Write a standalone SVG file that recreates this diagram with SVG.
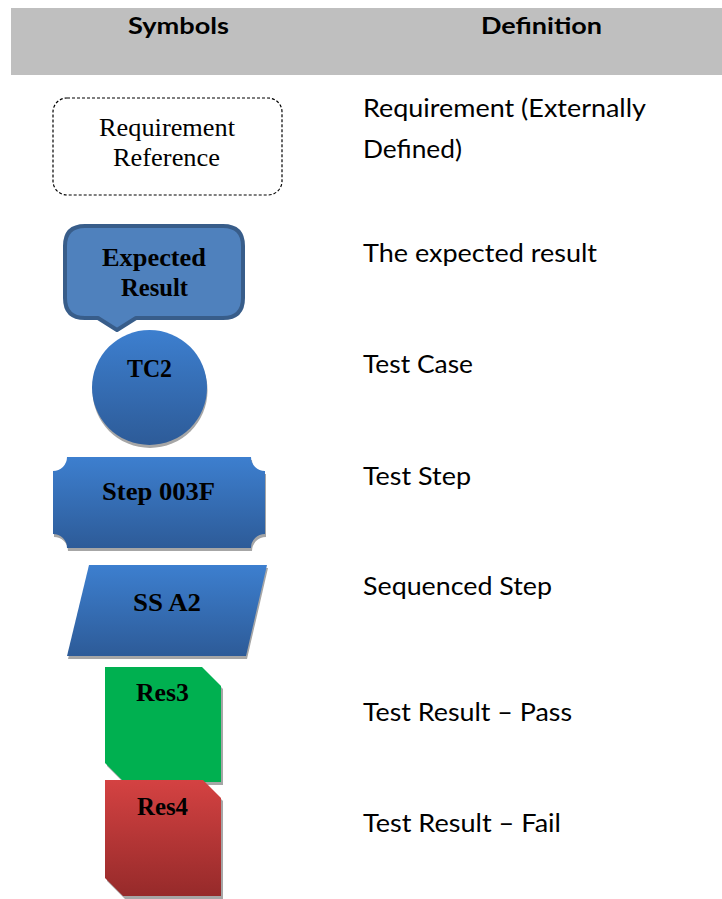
<svg xmlns="http://www.w3.org/2000/svg" width="722" height="899" viewBox="0 0 722 899">
<defs>
<linearGradient id="blue" x1="0" y1="0" x2="0" y2="1">
<stop offset="0" stop-color="#3d7fcf"/>
<stop offset="1" stop-color="#2d5b98"/>
</linearGradient>
<linearGradient id="red" x1="0" y1="0" x2="0" y2="1">
<stop offset="0" stop-color="#d44242"/>
<stop offset="1" stop-color="#962a2a"/>
</linearGradient>
</defs>
<style>
.hdr{font-family:Lato,"Open Sans",sans-serif;font-weight:bold;font-size:23px;fill:#000;text-anchor:middle}
.def{font-family:Lato,"Open Sans",sans-serif;font-size:25px;fill:#000}
.req{font-family:"Liberation Serif",serif;font-size:24.5px;fill:#000;text-anchor:middle}
.lbl{font-family:"Liberation Serif",serif;font-weight:bold;font-size:26px;fill:#000;text-anchor:middle}
.shadow{fill:#a6a6a6}
</style>
<rect width="722" height="899" fill="#fff"/>
<g id="header">
<rect x="11" y="8" width="711" height="67" fill="#bfbfbf"/>
<text class="hdr" x="178.5" y="34" textLength="101" lengthAdjust="spacingAndGlyphs">Symbols</text>
<text class="hdr" x="541.5" y="34" textLength="121" lengthAdjust="spacingAndGlyphs">Definition</text>
</g>
<g id="requirement">
<rect x="53" y="98" width="229" height="97" rx="14" ry="14" fill="#fff" stroke="#000" stroke-width="1.2" stroke-dasharray="3,2"/>
<text class="req" x="167" y="136" textLength="136" lengthAdjust="spacingAndGlyphs">Requirement</text>
<text class="req" x="166.5" y="166" textLength="107" lengthAdjust="spacingAndGlyphs">Reference</text>
</g>
<g id="expected-result">
<path d="M85,226 H223 Q243,226 243,246 V298 Q243,318 223,318 H136 L117,330 L98,318 H85 Q65,318 65,298 V246 Q65,226 85,226 Z" fill="#4f81bd" stroke="#385d8a" stroke-width="4" stroke-linejoin="round"/>
<text class="lbl" x="154" y="266" textLength="104" lengthAdjust="spacingAndGlyphs">Expected</text>
<text class="lbl" x="154.5" y="296" textLength="67" lengthAdjust="spacingAndGlyphs">Result</text>
</g>
<g id="test-case">
<circle class="shadow" cx="150" cy="390.5" r="57.5"/>
<circle cx="149.5" cy="387.5" r="57.5" fill="url(#blue)"/>
<text class="lbl" x="149.5" y="377" textLength="45" lengthAdjust="spacingAndGlyphs">TC2</text>
</g>
<g id="test-step">
<path class="shadow" transform="translate(1,3)" d="M67,457 H251 A14,14 0 0 0 265,471 V534 A14,14 0 0 0 251,548 H67 A14,14 0 0 0 53,534 V471 A14,14 0 0 0 67,457 Z"/>
<path fill="url(#blue)" d="M67,457 H251 A14,14 0 0 0 265,471 V534 A14,14 0 0 0 251,548 H67 A14,14 0 0 0 53,534 V471 A14,14 0 0 0 67,457 Z"/>
<text class="lbl" x="158.5" y="500" textLength="113" lengthAdjust="spacingAndGlyphs">Step 003F</text>
</g>
<g id="sequenced-step">
<polygon class="shadow" transform="translate(1,3)" points="89,565 267,565 246,656 67,656"/>
<polygon fill="url(#blue)" points="89,565 267,565 246,656 67,656"/>
<text class="lbl" x="167" y="611" textLength="68" lengthAdjust="spacingAndGlyphs">SS A2</text>
</g>
<g id="result-pass">
<polygon class="shadow" transform="translate(2,3)" points="105,667 202,667 221,686 221,782 124,782 105,763"/>
<polygon fill="#00b050" points="105,667 202,667 221,686 221,782 124,782 105,763"/>
<text class="lbl" x="162.5" y="701" textLength="53" lengthAdjust="spacingAndGlyphs">Res3</text>
</g>
<g id="result-fail">
<polygon class="shadow" transform="translate(2,3)" points="105,780 203,780 221,798 221,896 123,896 105,878"/>
<polygon fill="url(#red)" points="105,780 203,780 221,798 221,896 123,896 105,878"/>
<text class="lbl" x="162.5" y="815" textLength="51" lengthAdjust="spacingAndGlyphs">Res4</text>
</g>
<g id="definitions">
<text class="def" x="363" y="117" textLength="283" lengthAdjust="spacingAndGlyphs">Requirement (Externally</text>
<text class="def" x="363" y="158" textLength="99" lengthAdjust="spacingAndGlyphs">Defined)</text>
<text class="def" x="363" y="262" textLength="234" lengthAdjust="spacingAndGlyphs">The expected result</text>
<text class="def" x="363" y="373" textLength="110" lengthAdjust="spacingAndGlyphs">Test Case</text>
<text class="def" x="363" y="485" textLength="108" lengthAdjust="spacingAndGlyphs">Test Step</text>
<text class="def" x="363" y="595" textLength="189" lengthAdjust="spacingAndGlyphs">Sequenced Step</text>
<text class="def" x="363" y="721" textLength="209" lengthAdjust="spacingAndGlyphs">Test Result – Pass</text>
<text class="def" x="363" y="832" textLength="198" lengthAdjust="spacingAndGlyphs">Test Result – Fail</text>
</g>
</svg>
